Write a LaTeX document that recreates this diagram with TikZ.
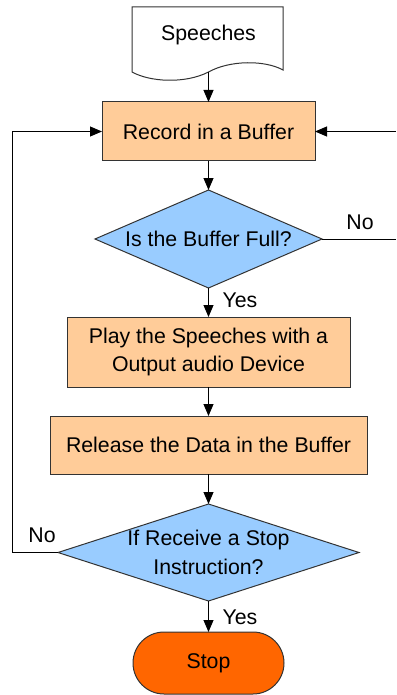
\documentclass[tikz,border=0pt]{standalone}
\usepackage{fontspec}
\setmainfont{Liberation Sans}
\usetikzlibrary{shapes.geometric,shapes.misc,arrows.meta}
\definecolor{procfill}{HTML}{FFCC99}
\definecolor{decfill}{HTML}{99CCFF}
\definecolor{stopfill}{HTML}{FF6600}
\definecolor{edge}{HTML}{333333}
\tikzset{
  base/.style={font=\fontsize{21.3}{28.5}\selectfont, inner sep=0pt, outer sep=0pt},
  procbox/.style={base, rectangle, draw=edge, line width=1pt, fill=procfill, align=center},
  decbox/.style={base, diamond, draw=edge, line width=1pt, fill=decfill},
  termbox/.style={base, rounded rectangle, draw=edge, line width=1pt, fill=stopfill},
  lbl/.style={base},
  flow/.style={line width=1pt, -{Triangle[length=12pt,width=10pt]}},
  plain/.style={line width=1pt}
}
\begin{document}
\begin{tikzpicture}[x=1pt,y=-1pt]
  \useasboundingbox (0,0) rectangle (396,695);

  % document symbol with wavy bottom
  \draw[edge, line width=1pt, fill=white]
    (132,72) -- (132,7) -- (283,7) -- (283,70)
    .. controls (265,60) and (230,60) .. (208.5,72)
    .. controls (185,84) and (150,82) .. (132,72) -- cycle;
  \node[lbl] (doc) at (208.5,35) {Speeches};
  \coordinate (docb) at (208.5,72);

  % process steps
  \node[procbox, minimum width=213pt, minimum height=59pt] (rec) at (208.5,131.5) {Record in a Buffer};
  \node[decbox, minimum width=227pt, minimum height=98pt,
        label={[lbl]center:Is the Buffer Full?}] (full) at (208.5,239) {};
  \node[procbox, minimum width=283pt, minimum height=70pt] (play) at (208.5,352)
    {Play the Speeches with a\\Output audio Device};
  \node[procbox, minimum width=317pt, minimum height=58pt] (rel) at (208.5,445)
    {Release the Data in the Buffer};
  \node[decbox, minimum width=301pt, minimum height=97pt,
        label={[lbl, align=center]center:If Receive a Stop\\Instruction?}] (stopq) at (208.5,552.5) {};
  \node[termbox, minimum width=151pt, minimum height=62pt] (stop) at (208.5,663) {Stop};

  % branch labels
  \node[lbl] (yes1) at (240,300) {Yes};
  \node[lbl] (no1) at (360,222) {No};
  \node[lbl] (no2) at (42,535) {No};
  \node[lbl] (yes2) at (240,617) {Yes};

  % free ends at the right border
  \coordinate (rin) at (396,131.5);
  \coordinate (rout) at (396,239);
  \coordinate (lcol) at (12.7,552.5);

  % connectors
  \draw[flow] (docb) -- (rec.north);
  \draw[flow] (rec.south) -- (full.north);
  \draw[flow] (full.south) -- (play.north);
  \draw[flow] (play.south) -- (rel.north);
  \draw[flow] (rel.south) -- (stopq.north);
  \draw[flow] (stopq.south) -- (stop.north);
  \draw[plain] (full.east) -- (rout);
  \draw[flow] (rin) -- (rec.east);
  \draw[flow] (stopq.west) -- (lcol) |- (rec.west);
\end{tikzpicture}
\end{document}
